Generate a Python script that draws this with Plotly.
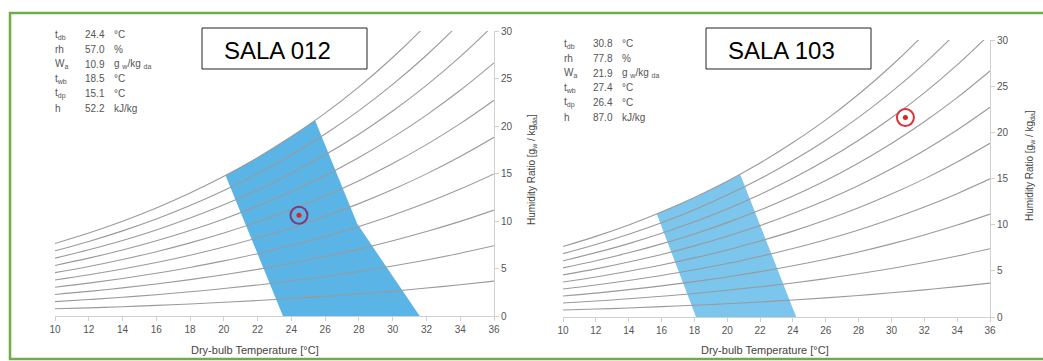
import plotly.graph_objects as go

# ---------------- data ----------------
temps = [10, 12, 14, 16, 18, 20, 22, 24, 26, 28, 30, 32, 34, 36]

# humidity ratio [g/kg] along the relative-humidity curves (10 % ... 100 %)
w_rh10 = [0.76, 0.86, 0.98, 1.12, 1.27, 1.44, 1.63, 1.84, 2.07, 2.33, 2.62, 2.94, 3.29, 3.67]
w_rh20 = [1.51, 1.73, 1.97, 2.24, 2.55, 2.89, 3.27, 3.69, 4.16, 4.68, 5.26, 5.90, 6.61, 7.39]
w_rh30 = [2.27, 2.59, 2.96, 3.37, 3.83, 4.34, 4.91, 5.55, 6.26, 7.04, 7.92, 8.89, 9.96, 11.15]
w_rh40 = [3.03, 3.46, 3.95, 4.50, 5.11, 5.80, 6.56, 7.42, 8.37, 9.43, 10.61, 11.91, 13.36, 14.96]
w_rh50 = [3.79, 4.34, 4.95, 5.63, 6.40, 7.26, 8.23, 9.30, 10.50, 11.83, 13.31, 14.96, 16.79, 18.81]
w_rh60 = [4.56, 5.21, 5.95, 6.77, 7.70, 8.74, 9.90, 11.20, 12.64, 14.25, 16.05, 18.04, 20.25, 22.71]
w_rh70 = [5.32, 6.09, 6.95, 7.92, 9.00, 10.22, 11.58, 13.10, 14.79, 16.69, 18.80, 21.15, 23.76, 26.65]
w_rh80 = [6.09, 6.97, 7.95, 9.06, 10.31, 11.70, 13.27, 15.02, 16.97, 19.14, 21.58, 24.28, 27.30, 30.65]
w_rh90 = [6.86, 7.85, 8.96, 10.21, 11.62, 13.20, 14.97, 16.95, 19.15, 21.62, 24.38, 27.45, 30.88, 34.69]
w_rh100 = [7.63, 8.73, 9.97, 11.37, 12.94, 14.70, 16.67, 18.89, 21.35, 24.12, 27.21, 30.66, 34.50, 38.79]
rh_curves = [w_rh10, w_rh20, w_rh30, w_rh40, w_rh50, w_rh60, w_rh70, w_rh80, w_rh90, w_rh100]

# comfort zones (blue polygons)
sala012_zone_t = [20.1, 22.0, 24.0, 25.4, 27.9, 31.6, 23.5, 20.1]
sala012_zone_w = [14.8, 16.7, 18.9, 20.6, 9.7, 0.0, 0.0, 14.8]
sala103_zone_t = [15.7, 18.0, 20.0, 20.8, 24.2, 18.1, 15.7]
sala103_zone_w = [11.2, 12.9, 14.7, 15.4, 0.0, 0.0, 11.2]

# measured states (marker positions)
sala012_point = (24.45, 10.6)
sala103_point = (30.85, 21.6)

# info table
info_labels = ["t<sub>db</sub>", "rh", "W<sub>a</sub>", "t<sub>wb</sub>", "t<sub>dp</sub>", "h"]
info_units = ["°C", "%", "g <sub>w</sub>/kg <sub>da</sub>", "°C", "°C", "kJ/kg"]
sala012_values = ["24.4", "57.0", "10.9", "18.5", "15.1", "52.2"]
sala103_values = ["30.8", "77.8", "21.9", "27.4", "26.4", "87.0"]

x_ticks = [10, 12, 14, 16, 18, 20, 22, 24, 26, 28, 30, 32, 34, 36]
y_ticks = [0, 5, 10, 15, 20, 25, 30]

# ---------------- layout helpers ----------------
W_PX, H_PX = 1043, 361


def fx(px):
    return px / W_PX


def fy(py):
    return 1 - py / H_PX


FONT = "Liberation Sans, Arial, sans-serif"
CURVE_COLOR = "#9a9a9a"
TEXT_COLOR = "#555555"

fig = go.Figure()

panels = [
    dict(xa="x", ya="y", zone=(sala012_zone_t, sala012_zone_w), fill="#5ab5e6",
         pt=sala012_point, ring="#7e3a78"),
    dict(xa="x2", ya="y2", zone=(sala103_zone_t, sala103_zone_w), fill="#7cc5ec",
         pt=sala103_point, ring="#d9323f"),
]

for p in panels:
    fig.add_trace(go.Scatter(x=p["zone"][0], y=p["zone"][1], xaxis=p["xa"], yaxis=p["ya"],
                             mode="lines", fill="toself", fillcolor=p["fill"],
                             line=dict(width=0, color=p["fill"]), hoverinfo="skip",
                             showlegend=False))
    for w in rh_curves:
        fig.add_trace(go.Scatter(x=temps, y=w, xaxis=p["xa"], yaxis=p["ya"], mode="lines",
                                 line=dict(color=CURVE_COLOR, width=1.1, shape="spline"),
                                 hoverinfo="skip", showlegend=False))
    fig.add_trace(go.Scatter(x=[p["pt"][0]], y=[p["pt"][1]], xaxis=p["xa"], yaxis=p["ya"],
                             mode="markers",
                             marker=dict(size=17, color="rgba(0,0,0,0)",
                                         line=dict(color=p["ring"], width=2)),
                             hoverinfo="skip", showlegend=False))
    fig.add_trace(go.Scatter(x=[p["pt"][0]], y=[p["pt"][1]], xaxis=p["xa"], yaxis=p["ya"],
                             mode="markers", marker=dict(size=5, color="#e0202a"),
                             hoverinfo="skip", showlegend=False))

axis_common = dict(showgrid=False, zeroline=False, showline=True, linecolor="#d0d0d0",
                   linewidth=1, ticks="outside", ticklen=4, tickcolor="#d0d0d0",
                   automargin=False,
                   tickfont=dict(family=FONT, size=10, color=TEXT_COLOR))

fig.update_layout(
    template="none",
    width=W_PX, height=H_PX, autosize=False,
    margin=dict(l=0, r=0, t=0, b=0, pad=0),
    paper_bgcolor="white", plot_bgcolor="white",
    showlegend=False, hovermode=False,
    xaxis=dict(domain=[fx(55), fx(494)], range=[10, 36], tickvals=x_ticks, anchor="y",
               **axis_common),
    yaxis=dict(domain=[fy(316), fy(31)], range=[0, 30], tickvals=y_ticks, anchor="x",
               side="right", **axis_common),
    xaxis2=dict(domain=[fx(563), fx(990)], range=[10, 36], tickvals=x_ticks, anchor="y2",
                **axis_common),
    yaxis2=dict(domain=[fy(317), fy(40)], range=[0, 30], tickvals=y_ticks, anchor="x2",
                side="right", **axis_common),
)

annotations = []
shapes = []

# info tables
tables = [
    dict(values=sala012_values, xl=53, xv=83, xu=112, y0=35),
    dict(values=sala103_values, xl=562, xv=591, xu=620, y0=44),
]
for t in tables:
    for i, (lab, val, unit) in enumerate(zip(info_labels, t["values"], info_units)):
        yy = fy(t["y0"] + 14.6 * i)
        for xpx, txt in ((t["xl"], lab), (t["xv"], val), (t["xu"], unit)):
            annotations.append(dict(x=fx(xpx), y=yy, xref="paper", yref="paper", text=txt,
                                    showarrow=False, xanchor="left", yanchor="middle",
                                    font=dict(family=FONT, size=10, color=TEXT_COLOR)))

# room labels in boxes
rooms = [("SALA 012", 202, 367, 277), ("SALA 103", 706, 871, 781)]
for name, x0, x1, xc in rooms:
    shapes.append(dict(type="rect", xref="paper", yref="paper", x0=fx(x0), x1=fx(x1),
                       y0=fy(69), y1=fy(28), line=dict(color="#222222", width=1),
                       fillcolor="white", layer="above"))
    annotations.append(dict(x=fx(xc), y=fy(51), xref="paper", yref="paper", text=name,
                            showarrow=False, xanchor="center", yanchor="middle",
                            font=dict(family=FONT, size=24, color="black")))

# axis titles
for xc in (255, 765):
    annotations.append(dict(x=fx(xc), y=fy(350), xref="paper", yref="paper",
                            text="Dry-bulb Temperature [°C]", showarrow=False,
                            xanchor="center", yanchor="middle",
                            font=dict(family=FONT, size=11, color="#444444")))
for xc, yc in ((532, 170), (1030, 166)):
    annotations.append(dict(x=fx(xc), y=fy(yc), xref="paper", yref="paper",
                            text="Humidity Ratio [g<sub>w</sub> / kg<sub>da</sub>]",
                            showarrow=False, textangle=-90, xanchor="center",
                            yanchor="middle",
                            font=dict(family=FONT, size=10, color="#444444")))

# green frame
shapes.append(dict(type="rect", xref="paper", yref="paper", x0=fx(10), x1=fx(1060),
                   y0=fy(359), y1=fy(13), line=dict(color="#70ad47", width=2.5),
                   fillcolor="rgba(0,0,0,0)", layer="above"))

fig.update_layout(annotations=annotations, shapes=shapes)

fig.write_html("out.html", config={"displayModeBar": False},
               post_script="document.body.style.margin='0px';document.body.style.overflow='hidden';")
